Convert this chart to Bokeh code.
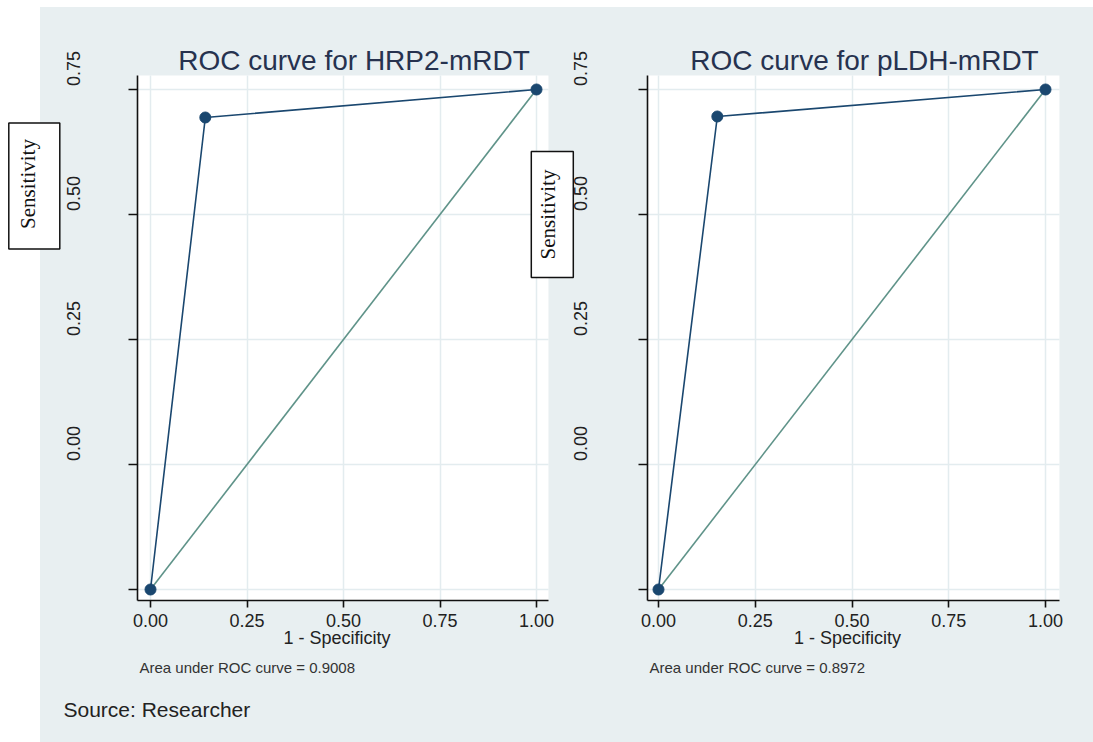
import math
from bokeh.plotting import figure
from bokeh.models import (Label, FixedTicker, Range1d, LinearAxis, Grid, BoxAnnotation,
                          CustomLabelingPolicy)
from bokeh.embed import file_html
from bokeh.resources import INLINE

# ---- data ----
titles = ["ROC curve for HRP2-mRDT", "ROC curve for pLDH-mRDT"]
roc_x = [[0.0, 0.142, 1.0], [0.0, 0.152, 1.0]]          # 1 - specificity
roc_y = [[0.0, 0.944, 1.0], [0.0, 0.946, 1.0]]          # sensitivity
ref_x = [0.0, 1.0]
ref_y = [0.0, 1.0]
auc = [0.9008, 0.8972]
x_ticks = [0.0, 0.25, 0.5, 0.75, 1.0]
x_tick_labels = ["0.00", "0.25", "0.50", "0.75", "1.00"]
y_ticks = [0.0, 0.25, 0.5, 0.75, 1.0]
# y labels as printed in the source (sitting above the tick marks)
y_label_text = ["0.00", "0.25", "0.50", "0.75"]
y_label_at = [0.25, 0.5, 0.75, 1.0]
y_label_shift = 0.042
x_title = "1 - Specificity"
y_title = "Sensitivity"
source_note = "Source: Researcher"

# ---- layout / style ----
W, H = 1093, 742
BG = "#e8eff1"
NAVY = "#1a476f"
TEAL = "#5f9389"
TITLE_C = "#26324f"
GRID_C = "#e3ecef"
TXT = "#222222"

# one canvas; each panel has its own x scale (pixels -> data)
X1 = Range1d(-150 / 386, (W - 150) / 386)
X2 = Range1d(-658 / 387, (W - 658) / 387)
Y = Range1d(-(H - 589) / 500, 589 / 500)
box_x = [(-0.0337, 1.031), (-0.0284, 1.036)]
box_y = (-0.022, 1.028)
lab_axis_x = [-0.182, -0.184]

p = figure(width=W, height=H, output_backend="svg", toolbar_location=None,
           x_range=X1, y_range=Y, x_axis_location=None, y_axis_location=None,
           min_border=0, min_border_left=0, min_border_right=0,
           min_border_top=0, min_border_bottom=0)
p.extra_x_ranges = {"p2": X2}
p.grid.visible = False
p.outline_line_color = None
p.background_fill_color = None
p.border_fill_color = None
p.styles = {"background": "linear-gradient(to bottom, #ffffff 7px, transparent 7px), "
                          "linear-gradient(to right, #ffffff 40px, %s 40px)" % BG}

has_cross = "cross_bounds" in Grid.properties()

for i, rn in enumerate(["default", "p2"]):
    xs, xe = box_x[i]
    ys, ye = box_y
    # white plot region
    p.add_layout(BoxAnnotation(left=xs, right=xe, bottom=ys, top=ye, x_range_name=rn,
                               fill_color="white", fill_alpha=1, line_color=None,
                               level="image"))
    # grid
    for dim, ticks in ((0, x_ticks), (1, y_ticks)):
        if has_cross:
            g = Grid(dimension=dim, ticker=FixedTicker(ticks=ticks), x_range_name=rn,
                     grid_line_color=GRID_C, grid_line_width=1.5,
                     bounds=(xs, xe) if dim == 0 else (ys, ye),
                     cross_bounds=(ys, ye) if dim == 0 else (xs, xe))
            p.add_layout(g)
        else:
            if dim == 0:
                p.segment(x0=ticks, x1=ticks, y0=[ys] * len(ticks), y1=[ye] * len(ticks),
                          x_range_name=rn, line_color=GRID_C, line_width=1.5)
            else:
                p.segment(x0=[xs] * len(ticks), x1=[xe] * len(ticks), y0=ticks, y1=ticks,
                          x_range_name=rn, line_color=GRID_C, line_width=1.5)

    # x axis
    xa = LinearAxis(x_range_name=rn, fixed_location=ys, bounds=(xs, xe),
                    ticker=FixedTicker(ticks=x_ticks, minor_ticks=[]),
                    major_label_overrides={t: l for t, l in zip(x_ticks, x_tick_labels)})
    xa.major_label_text_font = "Liberation Sans"
    xa.major_label_text_font_size = "18px"
    xa.major_label_text_color = TXT
    xa.major_label_standoff = 6
    xa.major_tick_out = 7
    xa.major_tick_in = 0
    p.add_layout(xa, "below")

    # y axis (ticks only; its printed labels are drawn by the label axis below)
    ya = LinearAxis(x_range_name=rn, fixed_location=xs, bounds=(ys, ye),
                    ticker=FixedTicker(ticks=y_ticks, minor_ticks=[]),
                    major_label_policy=CustomLabelingPolicy(
                        code="for (const i of indices) indices.unset(i)"))
    ya.major_tick_out = 9
    ya.major_tick_in = 0
    p.add_layout(ya, "left")

    for ax in (xa, ya):
        ax.axis_line_color = "#111111"
        ax.axis_line_width = 1.6
        ax.major_tick_line_color = "#111111"
        ax.major_tick_line_width = 1.6
        ax.minor_tick_line_color = None

    # y tick labels as printed (vertical, offset above the ticks)
    la = LinearAxis(x_range_name=rn, fixed_location=lab_axis_x[i],
                    ticker=FixedTicker(ticks=[v + y_label_shift for v in y_label_at],
                                       minor_ticks=[]),
                    major_label_overrides={v + y_label_shift: t
                                           for v, t in zip(y_label_at, y_label_text)},
                    major_label_orientation="vertical")
    la.axis_line_color = None
    la.major_tick_line_color = None
    la.minor_tick_line_color = None
    la.major_tick_out = 0
    la.major_tick_in = 0
    la.major_label_standoff = 0
    la.major_label_text_font = "Liberation Sans"
    la.major_label_text_font_size = "18px"
    la.major_label_text_color = TXT
    p.add_layout(la, "left")

    # data
    p.line(ref_x, ref_y, x_range_name=rn, line_color=TEAL, line_width=1.6)
    p.line(roc_x[i], roc_y[i], x_range_name=rn, line_color=NAVY, line_width=1.6)
    p.scatter(roc_x[i], roc_y[i], x_range_name=rn, size=11, fill_color=NAVY, line_color=NAVY)

    # panel title
    p.add_layout(Label(x=(xs + xe) / 2, y=H - 60, x_range_name=rn, y_units="screen",
                       x_offset=11, text=titles[i], text_align="center",
                       text_baseline="middle", text_font="Liberation Sans",
                       text_font_size="28px", text_color=TITLE_C))
    # x-axis title
    p.add_layout(Label(x=(xs + xe) / 2, y=H - 637.5, x_range_name=rn, y_units="screen",
                       x_offset=-6, text=x_title, text_align="center",
                       text_baseline="middle", text_font="Liberation Sans",
                       text_font_size="18px", text_color=TXT))
    # AUC note
    p.add_layout(Label(x=xs, y=H - 666.5, x_range_name=rn, y_units="screen", x_offset=2,
                       text="Area under  ROC curve = %.4f" % auc[i], text_align="left",
                       text_baseline="middle", text_font="Liberation Sans",
                       text_font_size="15px", text_color="#333333"))

# boxed y-axis titles
def sens_box(x, y, pad):
    p.add_layout(Label(x=x, y=y, x_units="screen", y_units="screen", text=y_title,
                       angle=math.pi / 2, text_align="center", text_baseline="middle",
                       text_font="Liberation Serif", text_font_size="21px",
                       text_color="#111111", background_fill_color="white",
                       border_line_color="#111111", border_line_width=1.5,
                       padding=pad))

sens_box(33.8, H - 185.5, dict(left=20, right=16, top=7, bottom=20))
sens_box(551.8, H - 214, dict(left=18, right=18, top=5, bottom=13))

p.add_layout(Label(x=63, y=H - 708.5, x_units="screen", y_units="screen", text=source_note,
                   text_align="left", text_baseline="middle", text_font="Liberation Sans",
                   text_font_size="21px", text_color=TXT))

open("out.html", "w").write(file_html(p, INLINE))
